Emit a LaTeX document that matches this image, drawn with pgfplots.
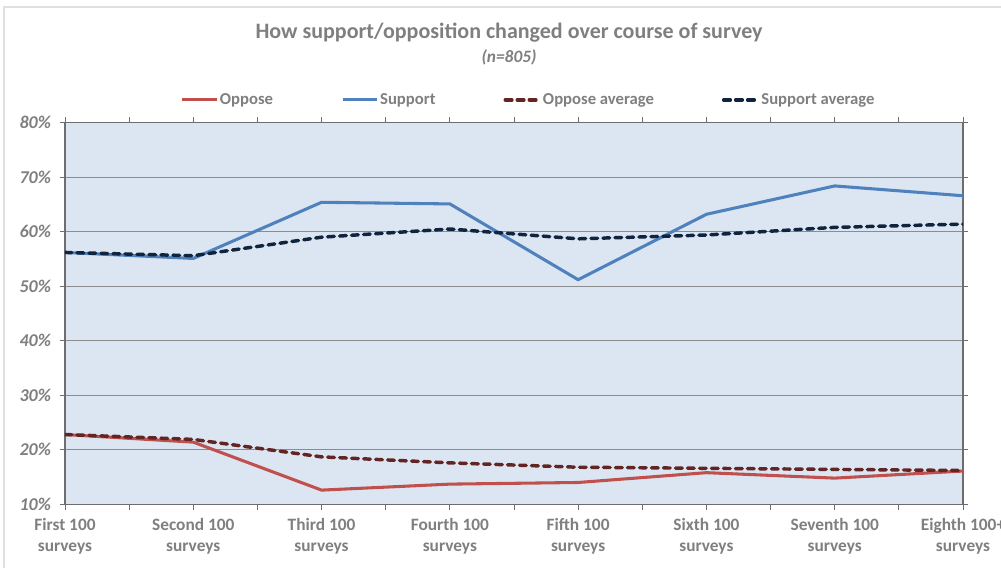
\documentclass[border=0pt]{standalone}
\usepackage{fontspec}
\setmainfont{Carlito}
\usepackage{pgfplots}
\pgfplotsset{compat=1.18}
\definecolor{txt}{HTML}{7F7F7F}
\definecolor{opp}{HTML}{C0504D}
\definecolor{sup}{HTML}{4F81BD}
\definecolor{oppavg}{HTML}{632523}
\definecolor{supavg}{HTML}{10243E}
\definecolor{bg}{HTML}{DCE6F2}
\definecolor{gridc}{HTML}{8C8C8C}
\definecolor{axc}{HTML}{6E6E6E}
\begin{document}
\begin{tikzpicture}
\useasboundingbox (0,0) rectangle (750.75pt,426pt);
\draw[black!12, line width=1.5pt] (3pt,0) -- (3pt,420.75pt) -- (750.75pt,420.75pt);
\node[font=\bfseries\fontsize{16.5}{19}\selectfont, text=txt] at (381.75pt,401.5pt) {How support/opposition changed over course of survey};
\node[font=\bfseries\itshape\fontsize{13}{15}\selectfont, text=txt] at (381.75pt,383.25pt) {(n=805)};
\begin{axis}[
  at={(48.75pt,47.78pt)}, anchor=south west,
  scale only axis, width=673.5pt, height=286.2pt,
  xmin=0, xmax=7, ymin=10, ymax=80,
  axis background/.style={fill=bg},
  axis line style={axc, line width=0.9pt},
  xtick={0,...,7},
  minor xtick={0.5,1.5,...,6.5},
  xticklabels={{First 100\\surveys},{Second 100\\surveys},{Third 100\\surveys},{Fourth 100\\surveys},{Fifth 100\\surveys},{Sixth 100\\surveys},{Seventh 100\\surveys},{Eighth 100+\\surveys}},
  xticklabel style={align=center, font=\bfseries\fontsize{13}{16}\selectfont, text=txt, yshift=-3pt},
  ytick={10,20,...,80},
  yticklabels={10\%,20\%,30\%,40\%,50\%,60\%,70\%,80\%},
  yticklabel style={font=\bfseries\itshape\fontsize{13.5}{15}\selectfont, text=txt, xshift=-3pt},
  tick align=outside,
  major tick length=4pt, minor tick length=4pt,
  tick style={axc, line width=0.6pt},
  x tick style={draw=axc}, y tick style={draw=axc},
  ymajorgrids, major grid style={gridc, line width=0.7pt},
  xmajorgrids=false,
  legend columns=4,
  legend style={at={(0.516,1.06)}, anchor=center, draw=none, fill=none,
    font=\bfseries\fontsize{12.5}{14}\selectfont, text=txt,
    nodes={inner sep=1pt},
    /tikz/every even column/.append style={column sep=50pt},
    inner sep=0pt},
  legend image code/.code={\draw[#1] (0pt,0pt) -- (26pt,0pt);},
  legend cell align=left,
  clip=true,
]
\addplot[opp, line width=2.3pt] coordinates {(0,22.8) (1,21.4) (2,12.6) (3,13.7) (4,14.0) (5,15.8) (6,14.8) (7,16.1)};
\addlegendentry{Oppose}
\addplot[sup, line width=2.3pt] coordinates {(0,56.2) (1,55.1) (2,65.4) (3,65.1) (4,51.2) (5,63.2) (6,68.4) (7,66.6)};
\addlegendentry{Support}
\addplot[oppavg, line width=2.6pt, dash pattern=on 5pt off 4pt, line cap=round] coordinates {(0,22.8) (1,21.9) (2,18.7) (3,17.6) (4,16.8) (5,16.6) (6,16.4) (7,16.2)};
\addlegendentry{Oppose average}
\addplot[supavg, line width=2.6pt, dash pattern=on 5pt off 4pt, line cap=round] coordinates {(0,56.2) (1,55.6) (2,59.0) (3,60.5) (4,58.7) (5,59.4) (6,60.8) (7,61.4)};
\addlegendentry{Support average}
\end{axis}
\end{tikzpicture}
\end{document}
